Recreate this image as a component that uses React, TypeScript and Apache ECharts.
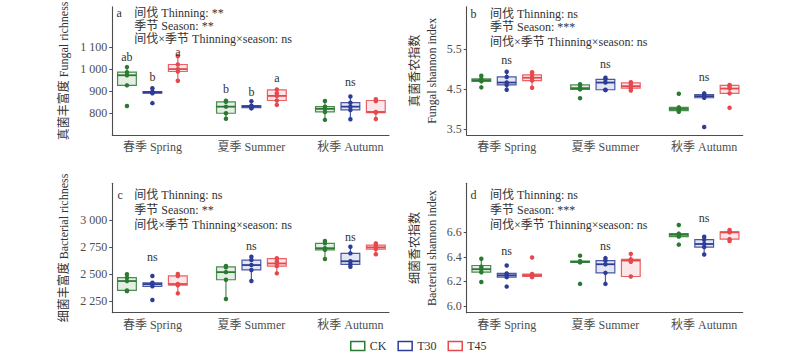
import React, { useEffect, useRef } from "react";
import * as echarts from "echarts";

// ---------- data ----------
const seasons = ["春季 Spring", "夏季 Summer", "秋季 Autumn"];
const treatments = ["CK", "T30", "T45"];

// box stats per treatment, per season: [lower whisker, Q1, median, Q3, upper whisker]
const fungalRichnessBox = [
  [[927, 927, 973, 987, 1010], [775, 800, 830, 852, 857], [770, 806, 820, 830, 856]],
  [[891, 891, 895, 898, 914], [822, 825, 830, 835, 855], [773, 815, 830, 848, 876]],
  [[948, 990, 1001, 1022, 1060], [838, 858, 879, 906, 908], [774, 803, 806, 858, 864]],
];
const fungalRichnessPts = [
  [[1010, 987, 973, 927, 833], [857, 852, 830, 800, 775], [856, 830, 820, 806, 770]],
  [[914, 898, 895, 891, 846], [855, 834, 830, 826, 822], [876, 848, 830, 815, 773]],
  [[1060, 1022, 1001, 990, 948], [908, 891, 879, 858, 838], [864, 855, 806, 803, 774]],
];
const fungalRichnessSig = [["ab", "b", "a"], ["b", "b", "a"], ["", "ns", ""]];
const fungalRichnessSigY = [[1057, 966, 1080], [909, 898, 959], [0, 944, 0]];
const fungalRichnessTicks = [800, 900, 1000, 1100];
const fungalRichnessTests = ["间伐 Thinning: **", "季节 Season: **", "间伐×季节 Thinning×season: ns"];

const fungalShannonBox = [
  [[4.7, 4.7, 4.73, 4.76, 4.84], [4.48, 4.5, 4.53, 4.61, 4.63], [3.94, 3.97, 4.01, 4.05, 4.06]],
  [[4.49, 4.61, 4.67, 4.81, 4.94], [4.48, 4.49, 4.67, 4.75, 4.79], [4.28, 4.29, 4.33, 4.37, 4.4]],
  [[4.54, 4.72, 4.79, 4.86, 4.93], [4.47, 4.53, 4.58, 4.66, 4.68], [4.38, 4.4, 4.52, 4.6, 4.61]],
];
const fungalShannonPts = [
  [[4.84, 4.76, 4.73, 4.7, 4.55], [4.63, 4.6, 4.53, 4.5, 4.28], [4.39, 4.05, 4.01, 3.97, 3.94]],
  [[4.94, 4.81, 4.67, 4.61, 4.49], [4.79, 4.75, 4.67, 4.49, 4.48], [4.4, 4.37, 4.33, 4.29, 3.56]],
  [[4.93, 4.86, 4.79, 4.72, 4.54], [4.68, 4.64, 4.58, 4.53, 4.47], [4.61, 4.58, 4.52, 4.4, 4.04]],
];
const fungalShannonSig = [["", "ns", ""], ["", "ns", ""], ["", "ns", ""]];
const fungalShannonSigY = [[0, 5.24, 0], [0, 5.14, 0], [0, 4.81, 0]];
const fungalShannonTicks = [3.5, 4.5, 5.5];
const fungalShannonTests = ["间伐 Thinning: ns", "季节 Season: ***", "间伐×季节 Thinning×season: ns"];

const bacterialRichnessBox = [
  [[2345, 2352, 2438, 2470, 2500], [2273, 2450, 2520, 2568, 2576], [2641, 2725, 2740, 2785, 2806]],
  [[2390, 2390, 2410, 2422, 2422], [2438, 2540, 2585, 2631, 2662], [2570, 2592, 2620, 2693, 2754]],
  [[2325, 2400, 2411, 2485, 2503], [2509, 2575, 2600, 2645, 2648], [2684, 2732, 2748, 2768, 2785]],
];
const bacterialRichnessPts = [
  [[2500, 2470, 2438, 2352, 2345], [2576, 2565, 2520, 2450, 2273], [2806, 2785, 2740, 2725, 2641]],
  [[2484, 2422, 2410, 2390, 2264], [2662, 2631, 2585, 2540, 2438], [2754, 2693, 2620, 2592, 2570]],
  [[2503, 2485, 2411, 2400, 2325], [2648, 2620, 2600, 2575, 2509], [2785, 2768, 2748, 2732, 2684]],
];
const bacterialRichnessSig = [["", "ns", ""], ["", "ns", ""], ["", "ns", ""]];
const bacterialRichnessSigY = [[0, 2660, 0], [0, 2763, 0], [0, 2846, 0]];
const bacterialRichnessTicks = [2250, 2500, 2750, 3000];
const bacterialRichnessTests = ["间伐 Thinning: ns", "季节 Season: **", "间伐×季节 Thinning×season: ns"];

const bacterialShannonBox = [
  [[6.27, 6.275, 6.3, 6.33, 6.385], [6.355, 6.355, 6.36, 6.365, 6.365], [6.565, 6.565, 6.58, 6.59, 6.59]],
  [[6.235, 6.235, 6.25, 6.265, 6.265], [6.18, 6.27, 6.34, 6.37, 6.39], [6.42, 6.48, 6.505, 6.54, 6.565]],
  [[6.235, 6.24, 6.25, 6.26, 6.265], [6.24, 6.24, 6.37, 6.38, 6.43], [6.53, 6.545, 6.6, 6.605, 6.62]],
];
const bacterialShannonPts = [
  [[6.385, 6.32, 6.3, 6.275, 6.195], [6.41, 6.365, 6.36, 6.355, 6.18], [6.66, 6.59, 6.58, 6.565, 6.5]],
  [[6.33, 6.265, 6.25, 6.235, 6.158], [6.39, 6.37, 6.34, 6.27, 6.18], [6.565, 6.54, 6.505, 6.48, 6.42]],
  [[6.395, 6.26, 6.25, 6.245, 6.235], [6.425, 6.38, 6.37, 6.36, 6.24], [6.62, 6.605, 6.6, 6.545, 6.53]],
];
const bacterialShannonSig = [["", "ns", ""], ["", "ns", ""], ["", "ns", ""]];
const bacterialShannonSigY = [[0, 6.445, 0], [0, 6.489, 0], [0, 6.714, 0]];
const bacterialShannonTicks = [6.0, 6.2, 6.4, 6.6];
const bacterialShannonTests = ["间伐 Thinning: ns", "季节 Season: ***", "间伐×季节 Thinning×season: ns"];

// ---------- style / layout ----------
const FONT = "'Liberation Serif', 'Noto Sans CJK SC', serif";
const colors = ["#2b7a32", "#2c3c97", "#e5484d"];
const fills = ["rgba(43,122,50,0.15)", "rgba(44,60,151,0.15)", "rgba(229,72,77,0.15)"];
const OFFSETS = [-0.257, 0, 0.257];
const BOX_W = 0.19;
const X_MIN = 0.595;
const X_MAX = 3.39;
const AXIS_COLOR = "#4d4d4d";
const TEXT_COLOR = "#333";

const fmtThousands = (v: number) =>
  v >= 1000 ? `${Math.floor(v / 1000)} ${String(v % 1000).padStart(3, "0")}` : String(v);
const fmt1 = (v: number) => v.toFixed(1);

const panels = [
  {
    letter: "a", left: 112.3, top: 6.7, width: 276.7, height: 128.3, ymin: 701, ymax: 1285,
    ticks: fungalRichnessTicks, fmt: fmtThousands, name: "真菌丰富度 Fungal richness", nameGap: 41, lh: 14,
    box: fungalRichnessBox, pts: fungalRichnessPts, sig: fungalRichnessSig, sigY: fungalRichnessSigY,
    tests: fungalRichnessTests, letterX: 116.5, textX: 134.3, lineY: [12.5, 26, 39],
  },
  {
    letter: "b", left: 466.7, top: 6.7, width: 276, height: 128.3, ymin: 3.36, ymax: 6.565,
    ticks: fungalShannonTicks, fmt: fmt1, name: "真菌香农指数\nFungal shannon index", nameGap: 26, lh: 17,
    box: fungalShannonBox, pts: fungalShannonPts, sig: fungalShannonSig, sigY: fungalShannonSigY,
    tests: fungalShannonTests, letterX: 470.5, textX: 490, lineY: [13.5, 27, 42],
  },
  {
    letter: "c", left: 112.3, top: 183.3, width: 276.7, height: 129.4, ymin: 2147, ymax: 3337,
    ticks: bacterialRichnessTicks, fmt: fmtThousands, name: "细菌丰富度 Bacterial richness", nameGap: 41, lh: 14,
    box: bacterialRichnessBox, pts: bacterialRichnessPts, sig: bacterialRichnessSig, sigY: bacterialRichnessSigY,
    tests: bacterialRichnessTests, letterX: 117.5, textX: 134.3, lineY: [194.5, 209.5, 224.5],
  },
  {
    letter: "d", left: 466.7, top: 183.3, width: 276, height: 129.4, ymin: 5.945, ymax: 7.0,
    ticks: bacterialShannonTicks, fmt: fmt1, name: "细菌香农指数\nBacterial shannon index", nameGap: 26, lh: 17,
    box: bacterialShannonBox, pts: bacterialShannonPts, sig: bacterialShannonSig, sigY: bacterialShannonSigY,
    tests: bacterialShannonTests, letterX: 470.5, textX: 490, lineY: [194.5, 209.5, 224.5],
  },
];

function boxRenderer(ti: number) {
  return (params: any, api: any) => {
    const x = api.value(0);
    const lo = api.coord([x, api.value(1)]);
    const q1 = api.coord([x, api.value(2)]);
    const md = api.coord([x, api.value(3)]);
    const q3 = api.coord([x, api.value(4)]);
    const hi = api.coord([x, api.value(5)]);
    const hw = api.size([BOX_W, 0])[0] / 2;
    const cx = md[0];
    const ls = { stroke: colors[ti], lineWidth: 1.2, opacity: 0.85 };
    return {
      type: "group",
      children: [
        { type: "line", shape: { x1: cx, y1: lo[1], x2: cx, y2: q1[1] }, style: ls },
        { type: "line", shape: { x1: cx, y1: q3[1], x2: cx, y2: hi[1] }, style: ls },
        {
          type: "rect",
          shape: { x: cx - hw, y: q3[1], width: hw * 2, height: Math.max(q1[1] - q3[1], 0.5) },
          style: { fill: fills[ti], stroke: colors[ti], lineWidth: 1.2, opacity: 0.85 },
        },
        { type: "line", shape: { x1: cx - hw, y1: md[1], x2: cx + hw, y2: md[1] }, style: { stroke: colors[ti], lineWidth: 1.8 } },
      ],
    };
  };
}

function buildOption() {
  const grid: any[] = [];
  const xAxis: any[] = [];
  const yAxis: any[] = [];
  const series: any[] = [];
  const graphic: any[] = [];

  panels.forEach((p, pi) => {
    grid.push({ left: p.left, top: p.top, width: p.width, height: p.height, containLabel: false, outerBoundsMode: "none" });
    xAxis.push({
      type: "value", gridIndex: pi, min: X_MIN, max: X_MAX,
      splitLine: { show: false },
      axisLine: { show: true, lineStyle: { color: AXIS_COLOR, width: 1.1 } },
      axisTick: { show: false },
      axisLabel: {
        customValues: [1, 2, 3],
        formatter: (v: number) => seasons[Math.round(v) - 1] ?? "",
        color: AXIS_COLOR, fontSize: 12, fontFamily: FONT, margin: 6,
      },
    });
    yAxis.push({
      type: "value", gridIndex: pi, min: p.ymin, max: p.ymax,
      splitLine: { show: false },
      axisLine: { show: true, lineStyle: { color: AXIS_COLOR, width: 1.1 } },
      axisTick: { show: true, customValues: p.ticks, length: 3, lineStyle: { color: AXIS_COLOR } },
      axisLabel: { customValues: p.ticks, formatter: p.fmt, color: AXIS_COLOR, fontSize: 12, fontFamily: FONT, margin: 5 },
      name: p.name, nameLocation: "middle", nameGap: p.nameGap, nameRotate: 90,
      nameTextStyle: { color: TEXT_COLOR, fontSize: 12, fontFamily: FONT, lineHeight: p.lh },
    });

    treatments.forEach((t, ti) => {
      series.push({
        type: "custom", name: t, xAxisIndex: pi, yAxisIndex: pi,
        renderItem: boxRenderer(ti),
        data: p.box[ti].map((s, si) => [si + 1 + OFFSETS[ti], ...s]),
        z: 2, silent: true,
      });
      const pts: number[][] = [];
      p.pts[ti].forEach((vals, si) => vals.forEach((v) => pts.push([si + 1 + OFFSETS[ti], v])));
      series.push({
        type: "scatter", name: t, xAxisIndex: pi, yAxisIndex: pi,
        data: pts, symbolSize: 4.5, itemStyle: { color: colors[ti], opacity: 1 }, z: 3, silent: true,
      });
    });

    // significance letters
    const sigData: any[] = [];
    const sigText: string[] = [];
    p.sig.forEach((row, si) =>
      row.forEach((lab, ti) => {
        if (lab) {
          sigData.push([si + 1 + OFFSETS[ti], p.sigY[si][ti]]);
          sigText.push(lab);
        }
      })
    );
    series.push({
      type: "custom", name: "sig" + pi, xAxisIndex: pi, yAxisIndex: pi, silent: true, z: 4,
      data: sigData,
      renderItem: (params: any, api: any) => {
        const c = api.coord([api.value(0), api.value(1)]);
        return {
          type: "text",
          style: {
            text: sigText[params.dataIndex], x: c[0], y: c[1], align: "center", verticalAlign: "middle",
            font: `12px ${FONT}`, fill: TEXT_COLOR,
          },
        };
      },
    });

    // panel letter & test results
    graphic.push({
      type: "text", left: p.letterX, top: p.lineY[0] - 6,
      style: { text: p.letter, font: `12px ${FONT}`, fill: TEXT_COLOR },
    });
    p.tests.forEach((line, li) => {
      graphic.push({
        type: "text", left: p.textX, top: p.lineY[li] - 6,
        style: { text: line, font: `12px ${FONT}`, fill: TEXT_COLOR },
      });
    });
  });

  return {
    animation: false,
    backgroundColor: "#fff",
    grid, xAxis, yAxis, series, graphic,
    legend: {
      left: 350, top: 340, padding: 0, itemWidth: 14, itemHeight: 9, itemGap: 11, icon: "rect",
      textStyle: { fontSize: 12, fontFamily: FONT, color: TEXT_COLOR },
      data: treatments.map((t, i) => ({
        name: t, icon: "rect",
        itemStyle: { color: "#fff", borderColor: colors[i], borderWidth: 1.5 },
      })),
    },
  };
}

export default function App() {
  const ref = useRef<HTMLDivElement>(null);
  useEffect(() => {
    if (!ref.current) return;
    const chart = echarts.init(ref.current, undefined, { renderer: "svg" });
    chart.setOption(buildOption() as any);
    return () => chart.dispose();
  }, []);
  return <div ref={ref} style={{ position: "fixed", left: 0, top: 0, width: 800, height: 354 }} />;
}
